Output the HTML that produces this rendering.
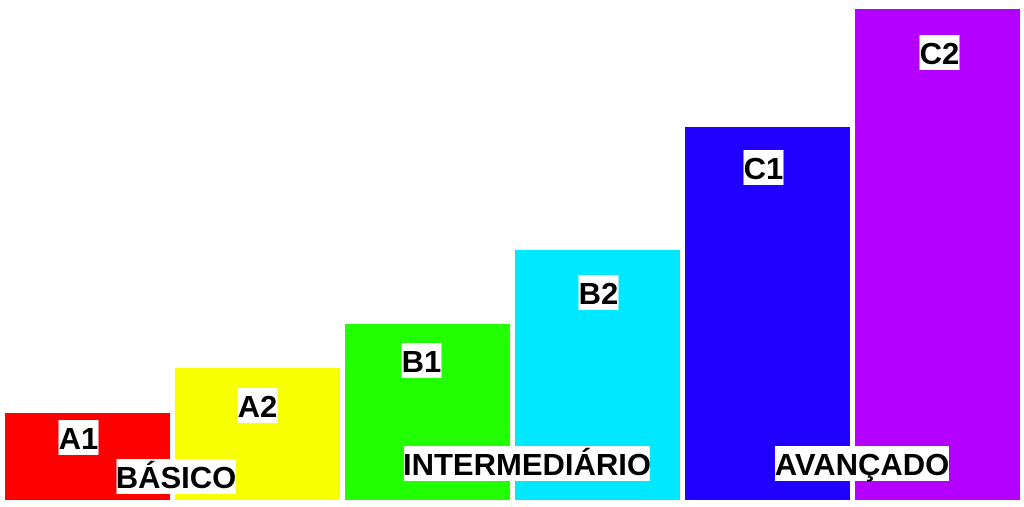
<!DOCTYPE html>
<html><head><meta charset="utf-8"><style>
html,body{margin:0;padding:0;background:#fff;width:1024px;height:507px;overflow:hidden}
svg text{font-family:"Liberation Sans",sans-serif;font-weight:bold;font-size:31px;fill:#000}
</style></head><body>
<svg id="chart" width="1024" height="507"></svg>
<script>
const levels=["A1","A2","B1","B2","C1","C2"];
const values=[87,132,176,250,373,491];
const colors=["#ff0000","#f8ff00","#22ff00","#00e8ff","#2200ff","#b400ff"];
const groups=["BÁSICO","INTERMEDIÁRIO","AVANÇADO"];
const labelDx=[-9,0,-6,1,-4,2];
const labelDy=[7,20,19,25,23,26];
const svg=document.getElementById('chart');
const NS="http://www.w3.org/2000/svg";
const base=500, x0=5, step=170, bw=165;
function xs(i){return x0+i*step;}
function ys(v){return base-v;}
function mk(t,a){const e=document.createElementNS(NS,t);for(const k in a)e.setAttribute(k,a[k]);svg.appendChild(e);return e;}
function label(txt,cx,top,w){
  const bg=mk('rect',{x:cx-w/2,y:top,width:w,height:35,fill:'#fff'});
  
  
  const t=mk('text',{x:cx,y:top+29,'text-anchor':'middle'});
  t.textContent=txt;
  return t;
}
levels.forEach((l,i)=>{
  const r=mk('rect',{x:xs(i),y:ys(values[i]),width:bw,height:values[i],fill:colors[i]});
  
  
  const t=label(l,xs(i)+bw/2+labelDx[i],ys(values[i])+labelDy[i],40);
  
  
});
const gpos=[[176,459,119],[527,446,246],[862,446,174]];
groups.forEach((g,i)=>{
  const t=label(g,gpos[i][0],gpos[i][1],gpos[i][2]);
  
  
});
</script>
</body></html>
